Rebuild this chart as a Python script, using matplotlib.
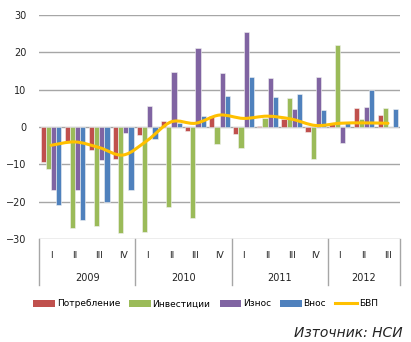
"""Quarterly GDP components, 2009-2012 (growth, %)."""

import matplotlib.pyplot as plt
import numpy as np
from matplotlib.lines import Line2D
from matplotlib.patches import Patch, PathPatch
from matplotlib.path import Path
from matplotlib.transforms import blended_transform_factory

YEARS = ["2009", "2010", "2011", "2012"]
QUARTERS = ["I", "II", "III", "IV"] * 3 + ["I", "II", "III"]

potreblenie = [-9.4, -3.8, -6.2, -8.6, -2.2, 1.7, -1.1, 2.9, -1.9, 0.3, 2.1, -1.3, 0.8, 5.0, 3.2]
investicii = [-11.3, -27.1, -26.5, -28.4, -28.2, -21.4, -24.5, -4.6, -5.7, 2.3, 7.7, -8.7, 22.0, 2.1, 5.0]
iznos = [-16.9, -16.9, -8.8, -1.5, 5.6, 14.7, 21.1, 14.4, 25.4, 13.0, 4.7, 13.5, -4.2, 5.3, 0.1]
vnos = [-20.8, -24.9, -20.1, -16.9, -3.3, 1.0, 2.9, 8.3, 13.5, 8.1, 8.8, 4.6, 1.4, 9.9, 4.7]
bvp = [-4.9, -4.0, -5.5, -7.5, -3.6, 1.4, 1.0, 3.2, 2.3, 2.9, 2.1, 0.4, 1.0, 1.1, 1.0]

SERIES = [
    ("Потребление", potreblenie, "#C0504D"),
    ("Инвестиции", investicii, "#9BBB59"),
    ("Износ", iznos, "#8064A2"),
    ("Внос", vnos, "#4F81BD"),
]
GDP_COLOR = "#FFC000"
GRID = "#A6A6A6"


def smooth_path(x, y):
    """Bezier path through the points, like a spreadsheet 'smoothed line'."""
    pts = np.column_stack([x, y])
    verts = [pts[0]]
    codes = [Path.MOVETO]
    n = len(pts)
    for i in range(n - 1):
        p0 = pts[max(i - 1, 0)]
        p1 = pts[i]
        p2 = pts[i + 1]
        p3 = pts[min(i + 2, n - 1)]
        c1 = p1 + (p2 - p0) / 6
        c2 = p2 - (p3 - p1) / 6
        verts += [c1, c2, p2]
        codes += [Path.CURVE4] * 3
    return Path(verts, codes)


def main():
    fig = plt.figure(figsize=(4.11, 3.42), dpi=100)
    ax = fig.add_axes([39 / 411, 1 - 239 / 342, 361 / 411, 224 / 342])

    x = np.arange(len(QUARTERS))
    w = 0.215
    for k, (name, vals, color) in enumerate(SERIES):
        ax.bar(x + (k - 1.5) * w, vals, width=w, color=color,
               edgecolor="#F2F2F2", linewidth=0.4, zorder=2)

    ax.add_patch(PathPatch(smooth_path(x, bvp), facecolor="none",
                           edgecolor=GDP_COLOR, linewidth=2.2, zorder=3,
                           capstyle="round"))

    ax.set_xlim(-0.5, len(QUARTERS) - 0.5)
    ax.set_ylim(-30, 30)
    ax.set_yticks(range(-30, 31, 10))
    ax.tick_params(axis="y", length=0, pad=9, labelsize=7, colors="#222222")
    ax.set_xticks([])
    for s in ax.spines.values():
        s.set_visible(False)
    for v in range(-30, 31, 10):
        ax.axhline(v, color=GRID, linewidth=1.0, zorder=1)

    # category axis drawn below the plot: quarters, years and separators
    tr = blended_transform_factory(ax.transData, ax.transAxes)
    for xi, q in zip(x, QUARTERS):
        ax.text(xi, -0.072, q, transform=tr, ha="center", va="center",
                fontsize=6.5, color="#222222")
    bounds = [-0.5, 3.5, 7.5, 11.5, 14.5]
    for b in bounds:
        ax.plot([b, b], [0, -0.205], transform=tr, color=GRID,
                linewidth=1.0, clip_on=False)
    for yr, lo, hi in zip(YEARS, bounds[:-1], bounds[1:]):
        ax.text((lo + hi) / 2, -0.175, yr, transform=tr, ha="center",
                va="center", fontsize=7, color="#222222")

    handles = [Patch(facecolor=c, label=n) for n, _, c in SERIES]
    handles.append(Line2D([], [], color=GDP_COLOR, linewidth=2.2, label="БВП"))
    fig.legend(handles=handles, loc="center", bbox_to_anchor=(0.5, 1 - 304 / 342),
               ncol=5, frameon=False, fontsize=6.5, handlelength=2.4,
               handleheight=0.7, handletextpad=0.2, columnspacing=1.0)

    fig.text(403 / 411, 1 - 333 / 342, "Източник: НСИ", ha="right",
             va="center", fontsize=10, style="italic", color="#222222")

    fig.savefig("out.png", dpi=100)


if __name__ == "__main__":
    main()
